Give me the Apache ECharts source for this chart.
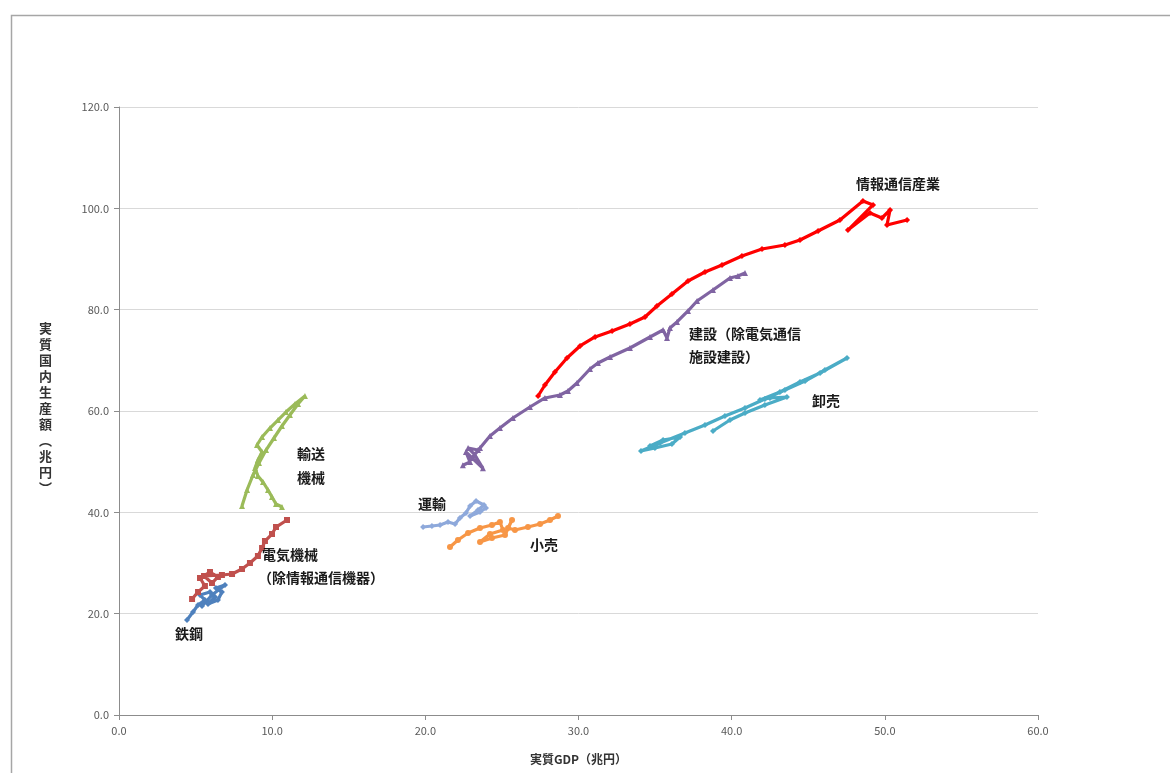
<!DOCTYPE html>
<html>
<head>
<meta charset="utf-8">
<script src="https://cdn.jsdelivr.net/npm/echarts@6/dist/echarts.min.js"></script>
<style>
html,body{margin:0;padding:0;background:#fff;}
#c{width:1170px;height:773px;}
</style>
</head>
<body>
<div id="c"></div>
<script>
// Axis ticks
var xTicks = [0, 10, 20, 30, 40, 50, 60];
var yTicks = [0, 20, 40, 60, 80, 100, 120];

// Series data: [実質GDP, 実質国内生産額] (兆円)
var tekko = [[4.44,18.75],[4.83,20.33],[5.16,21.71],[5.61,22.70],[5.29,23.68],[5.94,24.28],[6.27,23.29],[5.81,21.91],[6.46,22.70],[6.72,24.28],[6.33,25.07],[6.92,25.66],[6.07,23.68],[5.42,21.51]];
var denki = [[4.77,22.89],[5.16,24.28],[5.61,25.46],[5.29,27.04],[5.94,28.22],[6.46,27.24],[6.07,26.05],[5.55,27.43],[6.72,27.63],[7.38,27.83],[8.03,28.82],[8.55,30.00],[9.07,31.38],[9.34,32.96],[9.53,34.34],[9.99,35.72],[10.25,37.10],[10.97,38.49]];
var yuso = [[10.64,41.05],[10.25,41.64],[9.99,43.03],[9.73,44.41],[9.40,45.99],[9.07,47.17],[8.88,48.75],[9.07,50.33],[9.34,51.91],[9.01,53.29],[9.34,54.87],[9.86,56.64],[10.38,58.22],[10.90,59.80],[11.49,61.38],[12.14,62.96],[11.69,61.38],[11.16,59.21],[10.64,57.04],[10.12,54.67],[9.60,52.30],[9.14,49.74],[8.75,47.37],[8.36,44.41],[8.03,41.25]];
var unyu = [[19.85,37.10],[20.43,37.30],[20.96,37.50],[21.48,38.09],[21.94,37.70],[22.26,38.88],[22.65,39.87],[22.92,41.25],[23.31,42.24],[23.83,41.45],[23.44,40.46],[22.92,39.28],[23.57,40.07],[23.96,40.86]];
var kouri = [[21.61,33.16],[22.13,34.54],[22.79,35.92],[23.57,36.91],[24.35,37.50],[24.87,38.09],[25.07,36.51],[24.22,35.72],[23.57,34.14],[24.35,34.93],[25.20,35.53],[25.66,38.49],[25.40,36.91],[25.85,36.51],[26.70,37.10],[27.49,37.70],[28.14,38.49],[28.66,39.28]];
var kensetsu = [[22.45,49.30],[22.92,49.93],[22.65,51.91],[23.76,48.70],[23.24,51.32],[22.79,52.70],[23.44,52.30],[23.05,50.72],[23.57,52.70],[24.22,55.07],[24.87,56.64],[25.72,58.62],[26.83,60.79],[27.81,62.57],[28.79,63.16],[29.31,63.95],[29.90,65.53],[30.75,68.29],[31.27,69.47],[32.06,70.66],[33.36,72.43],[34.67,74.61],[35.52,75.99],[35.78,74.41],[35.97,76.38],[36.43,77.57],[37.15,79.74],[37.74,81.71],[38.78,83.88],[39.89,86.25],[40.41,86.64],[40.87,87.24]];
var oroshi = [[34.67,53.09],[35.52,54.28],[36.63,54.87],[36.10,53.49],[34.99,52.70],[34.08,52.11],[35.32,53.68],[36.95,55.66],[38.26,57.24],[39.56,59.01],[40.87,60.59],[42.17,62.37],[43.48,64.14],[44.79,65.92],[46.09,68.09],[47.53,70.46],[45.77,67.50],[44.46,65.72],[43.15,63.75],[41.85,62.17],[42.50,62.57],[43.61,62.76],[42.17,61.18],[40.87,59.61],[39.89,58.22],[38.78,56.05]];
var joho = [[27.36,62.96],[27.81,65.13],[28.46,67.70],[29.25,70.46],[30.10,72.83],[31.08,74.61],[32.19,75.79],[33.36,77.17],[34.34,78.55],[35.12,80.72],[36.10,83.09],[37.15,85.66],[38.26,87.43],[39.37,88.82],[40.67,90.59],[41.98,91.97],[43.48,92.76],[44.46,93.75],[45.64,95.53],[47.07,97.70],[48.57,101.45],[49.23,100.66],[47.59,95.72],[49.03,99.08],[49.81,98.09],[50.34,99.67],[50.14,96.71],[51.45,97.70]];

var seriesDefs = [
  {name:'鉄鋼', data:tekko, color:'#4F81BD', symbol:'diamond'},
  {name:'電気機械', data:denki, color:'#C0504D', symbol:'rect'},
  {name:'輸送機械', data:yuso, color:'#9BBB59', symbol:'triangle'},
  {name:'運輸', data:unyu, color:'#8EA9DB', symbol:'diamond'},
  {name:'小売', data:kouri, color:'#F79646', symbol:'circle'},
  {name:'建設', data:kensetsu, color:'#8064A2', symbol:'triangle'},
  {name:'卸売', data:oroshi, color:'#4BACC6', symbol:'diamond'},
  {name:'情報通信産業', data:joho, color:'#FF0000', symbol:'diamond'}
];

var font = '"Noto Sans CJK JP", "Noto Sans", sans-serif';
var labelStyle = {fontFamily: font, fontSize: 14, fill: '#1a1a1a', fontWeight: 'bold'};

function lbl(x, y, text) {
  return {type:'text', left:x, top:y, style:Object.assign({text:text}, labelStyle), z:100};
}

var chart = echarts.init(document.getElementById('c'), null, {renderer:'canvas'});
chart.setOption({
  backgroundColor:'#fff',
  animation:false,
  grid:{left:119, right:132, top:107, bottom:58, containLabel:false},
  xAxis:{
    type:'value', min:xTicks[0], max:xTicks[xTicks.length-1], interval:10,
    axisLine:{show:true, onZero:false, lineStyle:{color:'#8c8c8c', width:1}},
    axisTick:{show:true, inside:false, length:5, lineStyle:{color:'#8c8c8c'}},
    splitLine:{show:false},
    axisLabel:{color:'#595959', fontSize:11, fontFamily:font, margin:10, formatter:function(v){return v.toFixed(1);}},
    name:'実質GDP（兆円）', nameLocation:'middle', nameGap:38,
    nameTextStyle:{color:'#333', fontSize:12, fontWeight:'bold', fontFamily:font}
  },
  yAxis:{
    type:'value', min:yTicks[0], max:yTicks[yTicks.length-1], interval:20,
    axisLine:{show:true, onZero:false, lineStyle:{color:'#8c8c8c', width:1}},
    axisTick:{show:true, inside:false, length:5, lineStyle:{color:'#8c8c8c'}},
    splitLine:{show:true, lineStyle:{color:'#d9d9d9', width:1}},
    axisLabel:{color:'#595959', fontSize:11, fontFamily:font, margin:10, formatter:function(v){return v.toFixed(1);}}
  },
  graphic:[
    {type:'rect', left:9, top:13, shape:{width:1300, height:900}, style:{fill:'none', stroke:'#a6a6a6', lineWidth:1.5}, z:-1, silent:true},
    {type:'text', left:39, top:320, style:{text:'実\n質\n国\n内\n生\n産\n額\n︵\n兆\n円\n︶', fontFamily:font, fontSize:13, fontWeight:'bold', fill:'#333', lineHeight:16}},
    lbl(856, 177, '情報通信産業'),
    lbl(689, 327, '建設（除電気通信'),
    lbl(689, 350, '施設建設）'),
    lbl(812, 394, '卸売'),
    lbl(297, 447, '輸送'),
    lbl(297, 471, '機械'),
    lbl(418, 497, '運輸'),
    lbl(530, 538, '小売'),
    lbl(262, 548, '電気機械'),
    lbl(258, 571, '（除情報通信機器）'),
    lbl(175, 627, '鉄鋼')
  ],
  series: seriesDefs.map(function(s){
    return {
      type:'line', name:s.name, data:s.data,
      symbol:s.symbol, symbolSize:6, showSymbol:true,
      lineStyle:{color:s.color, width:3.2},
      itemStyle:{color:s.color},
      smooth:false
    };
  })
});
</script>
</body>
</html>
